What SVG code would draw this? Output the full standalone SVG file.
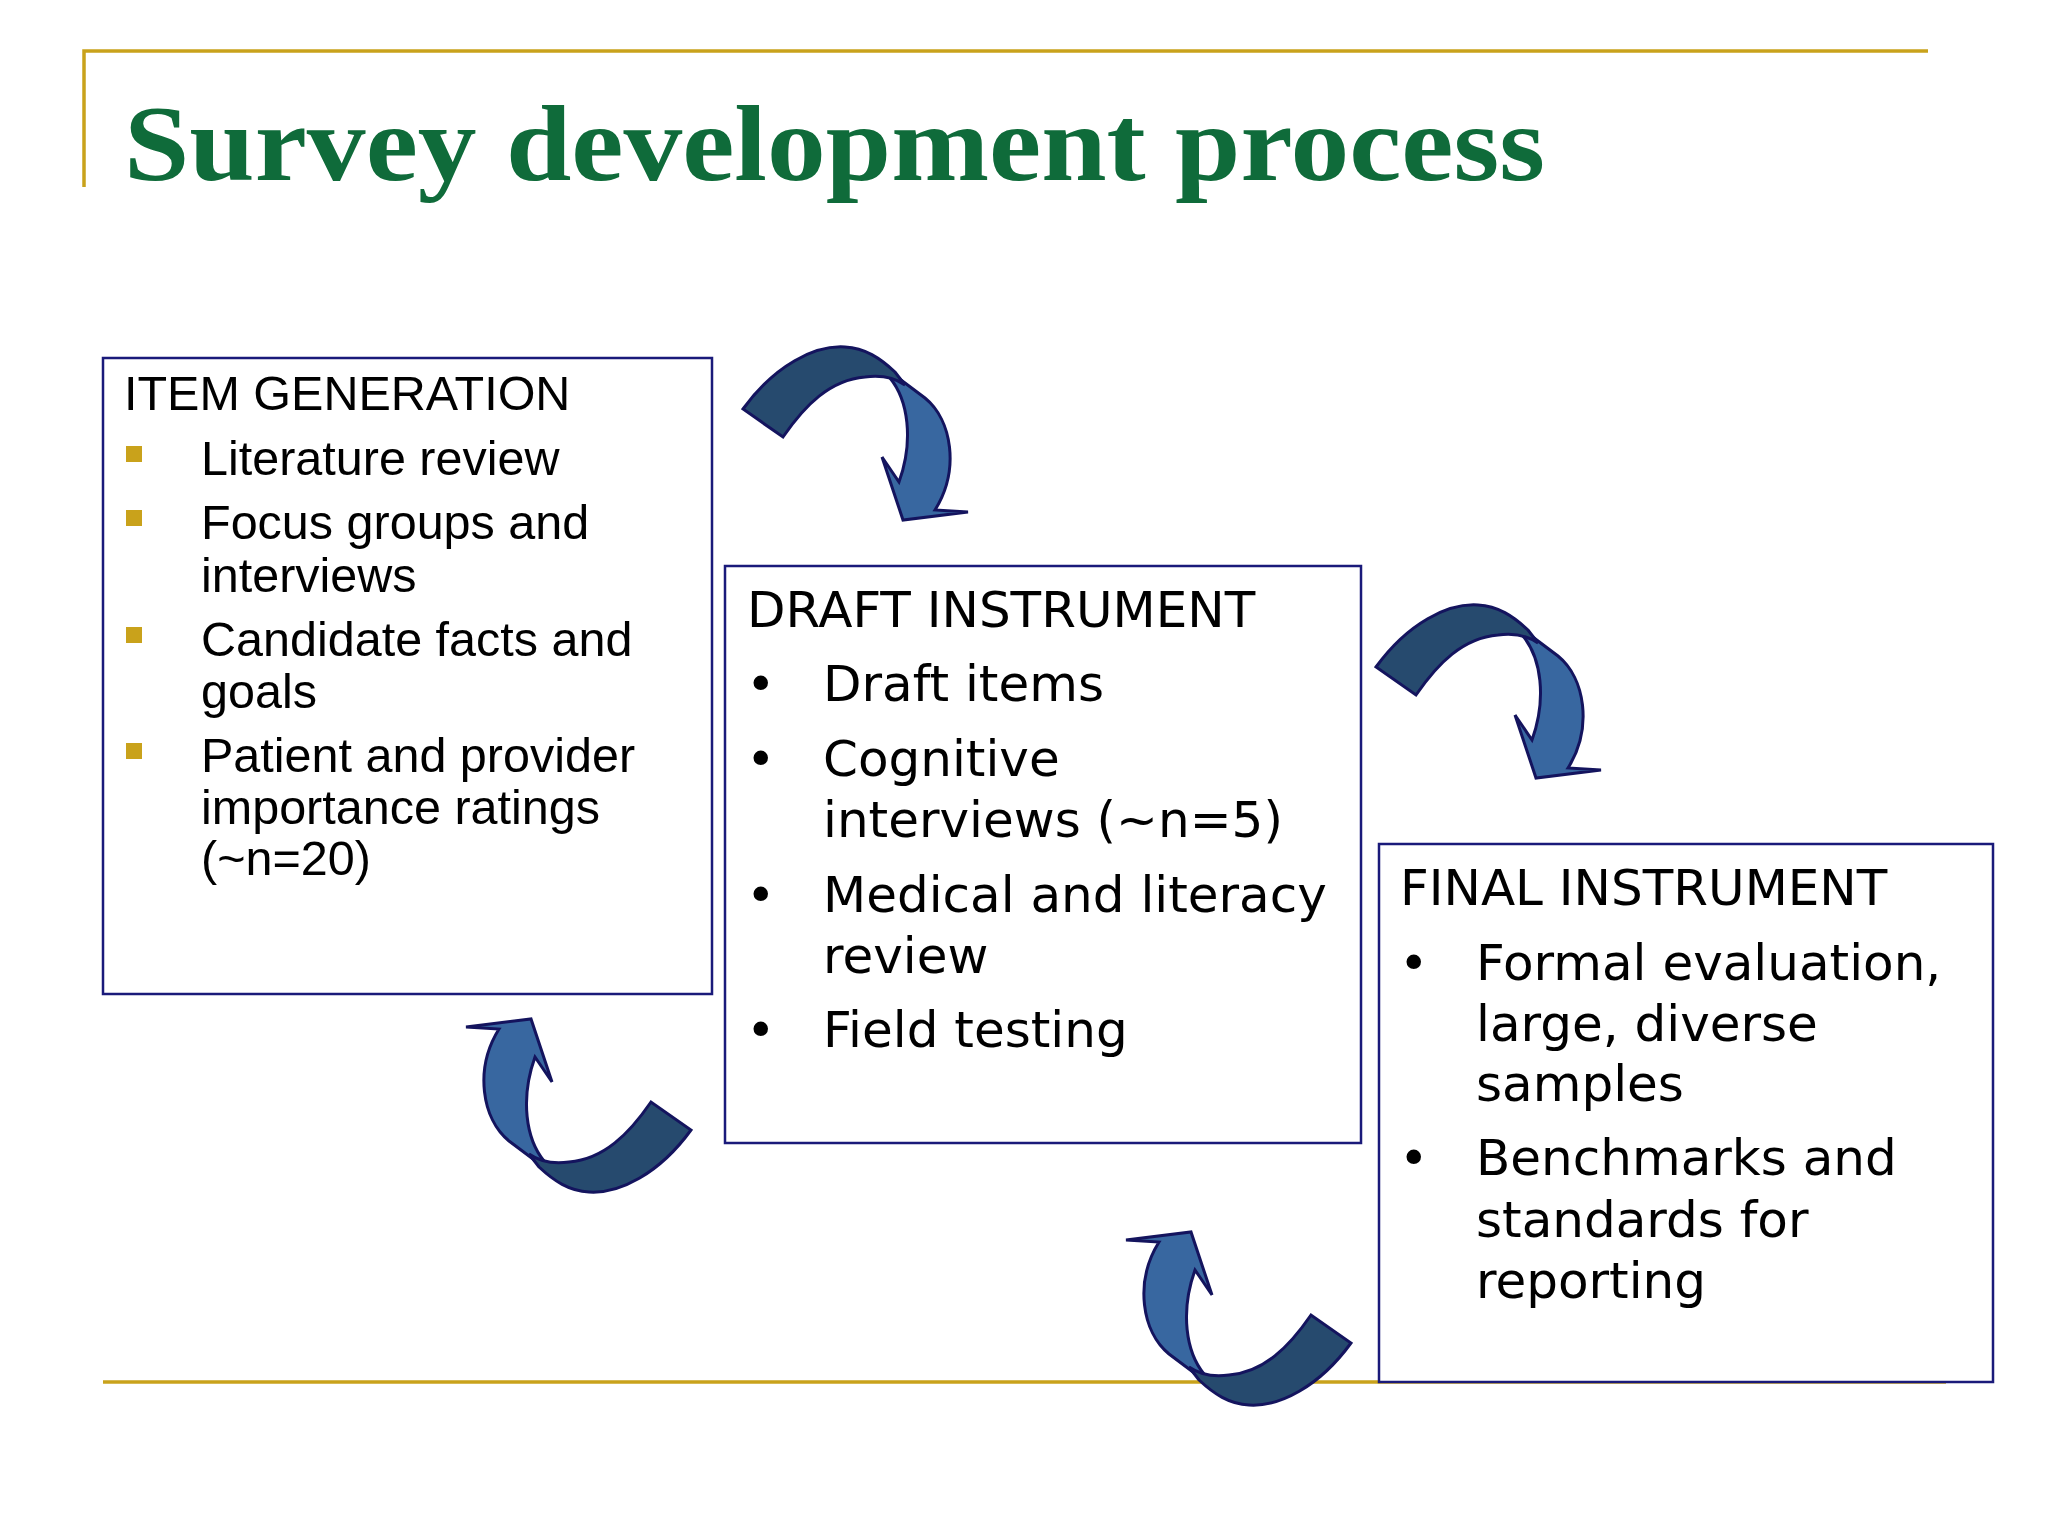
<svg xmlns="http://www.w3.org/2000/svg" width="2048" height="1536" viewBox="0 0 2048 1536">
<style>
.box{fill:#fff;stroke:#1a1a7a;stroke-width:2.5}
.rule{stroke:#C9A21B;stroke-width:3.5;fill:none}
.t1{font-family:"Liberation Sans",Arial,sans-serif;font-size:48.5px;fill:#000}
.t2{font-family:"DejaVu Sans",Verdana,sans-serif;font-size:50px;fill:#000}
.dk{fill:#264A6E;stroke:#14145e;stroke-width:3}
.lt{fill:#3867A0;stroke:#14145e;stroke-width:3}
.sq{fill:#C9A21B}
</style>
<defs>
<g id="arrow">
<path class="lt" d="M885,368 L925,398 C952,420 960,470 935,510 L968,512 L903,520 L882,457 L899,482 C914,440 908,400 890,378 Z"/>
<path class="dk" d="M743,409 C775,365 815,345 845,347 C865,348 880,358 895,372 L905,385 C895,378 880,375 865,377 C830,380 805,405 783,437 Z"/>
</g>
</defs>
<rect width="2048" height="1536" fill="#fff"/>
<path class="rule" d="M84,187 V51 H1928"/>
<path class="rule" d="M103,1382 H1946"/>
<text x="124" y="180" font-family="Liberation Serif,serif" font-weight="bold" font-size="108" fill="#0F6B3A" textLength="1421" lengthAdjust="spacingAndGlyphs">Survey development process</text>
<g id="item-generation">
<rect class="box" x="103" y="358" width="609" height="636"/>
<text class="t1" x="124" y="410">ITEM GENERATION</text>
<rect class="sq" x="126" y="446" width="16" height="16"/>
<rect class="sq" x="126" y="510" width="16" height="16"/>
<rect class="sq" x="126" y="627" width="16" height="16"/>
<rect class="sq" x="126" y="743" width="16" height="16"/>
<text class="t1" x="201" y="475">Literature review</text>
<text class="t1" x="201" y="539">Focus groups and</text>
<text class="t1" x="201" y="592">interviews</text>
<text class="t1" x="201" y="656">Candidate facts and</text>
<text class="t1" x="201" y="708">goals</text>
<text class="t1" x="201" y="772">Patient and provider</text>
<text class="t1" x="201" y="824">importance ratings</text>
<text class="t1" x="201" y="875">(~n=20)</text>
</g>
<g id="draft-instrument">
<rect class="box" x="725" y="566" width="636" height="577"/>
<text class="t2" x="747" y="627">DRAFT INSTRUMENT</text>
<text class="t2" x="746" y="701">•</text>
<text class="t2" x="746" y="776">•</text>
<text class="t2" x="746" y="912">•</text>
<text class="t2" x="746" y="1047">•</text>
<text class="t2" x="823" y="701">Draft items</text>
<text class="t2" x="823" y="776">Cognitive</text>
<text class="t2" x="823" y="837">interviews (~n=5)</text>
<text class="t2" x="823" y="912">Medical and literacy</text>
<text class="t2" x="823" y="973">review</text>
<text class="t2" x="823" y="1047">Field testing</text>
</g>
<g id="final-instrument">
<rect class="box" x="1379" y="844" width="614" height="538"/>
<text class="t2" x="1400" y="905">FINAL INSTRUMENT</text>
<text class="t2" x="1399" y="980">•</text>
<text class="t2" x="1399" y="1175">•</text>
<text class="t2" x="1476" y="980">Formal evaluation,</text>
<text class="t2" x="1476" y="1041">large, diverse</text>
<text class="t2" x="1476" y="1101">samples</text>
<text class="t2" x="1476" y="1175">Benchmarks and</text>
<text class="t2" x="1476" y="1237">standards for</text>
<text class="t2" x="1476" y="1298">reporting</text>
</g>
<g id="connectors">
<use href="#arrow"/>
<use href="#arrow" transform="translate(633,258)"/>
<use href="#arrow" transform="translate(4,-5) rotate(180 715 772)"/>
<use href="#arrow" transform="translate(664,208) rotate(180 715 772)"/>
</g>
</svg>
